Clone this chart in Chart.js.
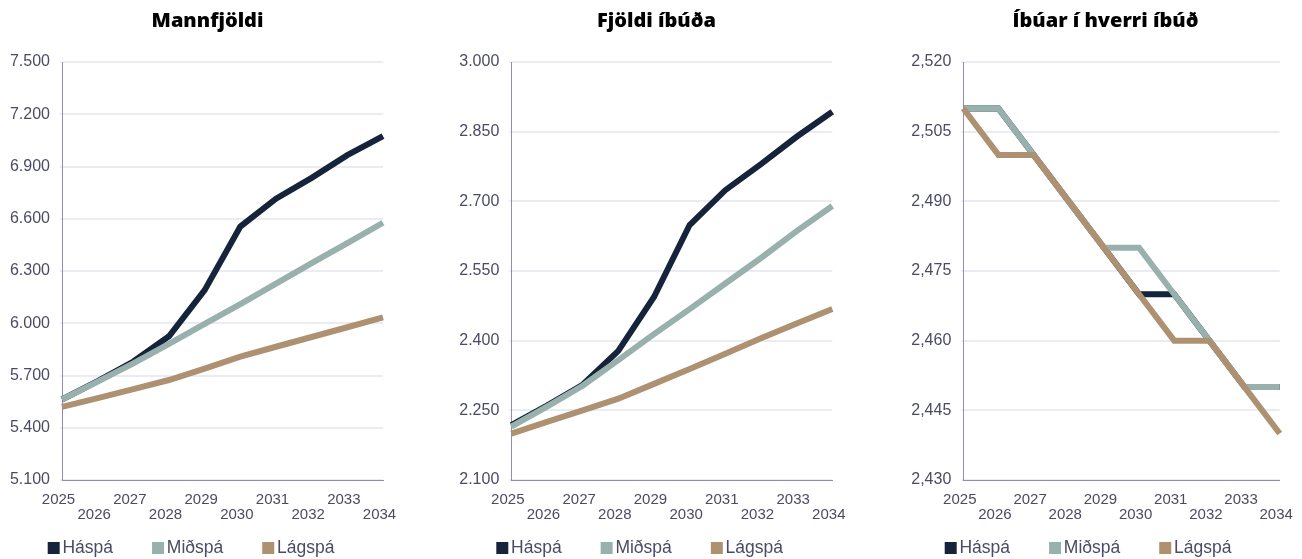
<!DOCTYPE html>
<html>
<head>
<meta charset="utf-8">
<script src="https://cdn.jsdelivr.net/npm/chart.js@4.4.1/dist/chart.umd.min.js"></script>
<style>
  html, body { margin: 0; padding: 0; background: #fff; overflow: hidden; width: 1302px; height: 559px; }
  canvas { position: absolute; top: 0; }
</style>
</head>
<body>
<canvas id="c1"></canvas>
<canvas id="c2"></canvas>
<canvas id="c3"></canvas>
<script>
// data
var years = ['2025', '2026', '2027', '2028', '2029', '2030', '2031', '2032', '2033', '2034'];
var seriesNames = ['Háspá', 'Miðspá', 'Lágspá'];

var mannHa  = [5562, 5668, 5780, 5925, 6190, 6555, 6715, 6835, 6965, 7075];
var mannMid = [5562, 5665, 5770, 5881, 5997, 6110, 6228, 6345, 6460, 6577];
var mannLag = [5520, 5570, 5622, 5674, 5740, 5808, 5865, 5921, 5977, 6034];

var ibudHa  = [2218, 2260, 2305, 2378, 2494, 2649, 2724, 2780, 2839, 2893];
var ibudMid = [2215, 2258, 2303, 2358, 2414, 2468, 2523, 2578, 2636, 2690];
var ibudLag = [2200, 2225, 2250, 2275, 2307, 2339, 2372, 2405, 2437, 2468];

var ibuarHa  = [2.51, 2.51, 2.50, 2.49, 2.48, 2.47, 2.47, 2.46, 2.45, 2.45];
var ibuarMid = [2.51, 2.51, 2.50, 2.49, 2.48, 2.48, 2.47, 2.46, 2.45, 2.45];
var ibuarLag = [2.51, 2.50, 2.50, 2.49, 2.48, 2.47, 2.46, 2.46, 2.45, 2.44];

var mannAxis  = [5100, 7500, 300];
var ibudAxis  = [2100, 3000, 150];
var ibuarAxis = [2.43, 2.52, 0.015];

// look
var COLORS = ['#15243a', '#98b1ad', '#ad9171'];
var TXT = '#4b4b66';
var AXIS = '#8d8db5';
var GRID = '#ebebf3';
var LEG_PAD = 45;
var LEG_FONT = 17.5;
var X_AXIS_H = 43;
var CANVAS_W = 460, CANVAS_H = 596;
// plot is 62..480 tall; legend row centred at y=548
var LEG_LIFT = (480 + X_AXIS_H + LEG_PAD + LEG_FONT / 2) - 548;

Chart.defaults.font.family = '"Liberation Sans", Arial, sans-serif';
Chart.defaults.color = TXT;

// the legend sits closer to the x labels than its padding allows
var liftLegend = {
  id: 'liftLegend',
  afterLayout: function (chart) {
    chart.legend.top -= LEG_LIFT;
    chart.legend.bottom -= LEG_LIFT;
  }
};

function thousands(v) {
  return String(Math.round(v)).replace(/\B(?=(\d{3})+(?!\d))/g, '.');
}
function decimalComma(v) {
  return v.toFixed(3).replace('.', ',');
}

function makeChart(id, geo, title, series, axis, fmt) {
  var lc = Math.round(geo.legendStart - 50);
  var pl = geo.legendStart + 6 - LEG_PAD - lc;
  var yW = geo.plotLeft - lc - pl;
  var titleRight = 2 * (geo.titleCenter - lc) - pl;
  var pr = CANVAS_W - titleRight;
  var xPadR = CANVAS_W - (geo.plotRight - lc);

  var cv = document.getElementById(id);
  cv.width = CANVAS_W;
  cv.height = CANVAS_H;
  cv.style.left = lc + 'px';

  var datasets = series.map(function (d, i) {
    return {
      label: seriesNames[i],
      data: d,
      borderColor: COLORS[i],
      backgroundColor: COLORS[i],
      borderWidth: 6,
      pointRadius: 0,
      pointBorderWidth: 0,
      pointStyle: 'rect',
      tension: 0,
      order: 3 - i
    };
  });

  return new Chart(cv, {
    type: 'line',
    data: { labels: years, datasets: datasets },
    plugins: [liftLegend],
    options: {
      responsive: false,
      animation: false,
      events: [],
      layout: { padding: { left: pl, right: pr, top: 0, bottom: CANVAS_H - (480 + X_AXIS_H + LEG_FONT + LEG_PAD + 10) } },
      plugins: {
        tooltip: { enabled: false },
        title: {
          display: true,
          text: title,
          color: '#000',
          font: { family: '"Open Sans", "Noto Sans", sans-serif', size: 20, weight: 800, lineHeight: 1.2 },
          padding: { top: 9, bottom: 29 }
        },
        legend: {
          position: 'bottom',
          align: 'start',
          labels: {
            usePointStyle: true,
            boxWidth: 0.01,
            boxHeight: 12,
            padding: LEG_PAD,
            color: TXT,
            font: { size: LEG_FONT },
            sort: function (a, b) { return a.datasetIndex - b.datasetIndex; }
          }
        }
      },
      scales: {
        x: {
          grid: { display: false, drawTicks: false },
          border: { color: AXIS, width: 1 },
          ticks: {
            autoSkip: false,
            maxRotation: 0,
            minRotation: 0,
            padding: 12,
            labelOffset: -3.5,
            color: TXT,
            font: { size: 15, lineHeight: 1.03 },
            callback: function (v, i) {
              var l = this.getLabelForValue(v);
              return i % 2 ? ['', l] : [l, ''];
            }
          },
          afterFit: function (s) {
            s.height = X_AXIS_H;
            s.paddingLeft = 0;
            s.paddingRight = xPadR;
          }
        },
        y: {
          min: axis[0],
          max: axis[1],
          grid: { color: GRID, lineWidth: 2, drawTicks: true, tickLength: 2 },
          border: { color: AXIS, width: 1 },
          ticks: {
            stepSize: axis[2],
            padding: 10,
            color: TXT,
            font: { size: 16 },
            callback: function (v) { return fmt(v); }
          },
          afterFit: function (s) { s.width = yW; }
        }
      }
    }
  });
}

makeChart('c1', { plotLeft: 62, plotRight: 383, titleCenter: 207.5, legendStart: 47.7 },
  'Mannfjöldi', [mannHa, mannMid, mannLag], mannAxis, thousands);
makeChart('c2', { plotLeft: 511.3, plotRight: 832.3, titleCenter: 656.5, legendStart: 496.3 },
  'Fjöldi íbúða', [ibudHa, ibudMid, ibudLag], ibudAxis, thousands);
makeChart('c3', { plotLeft: 963.3, plotRight: 1279.7, titleCenter: 1105.5, legendStart: 944.7 },
  'Íbúar í hverri íbúð', [ibuarHa, ibuarMid, ibuarLag], ibuarAxis, decimalComma);
</script>
</body>
</html>
